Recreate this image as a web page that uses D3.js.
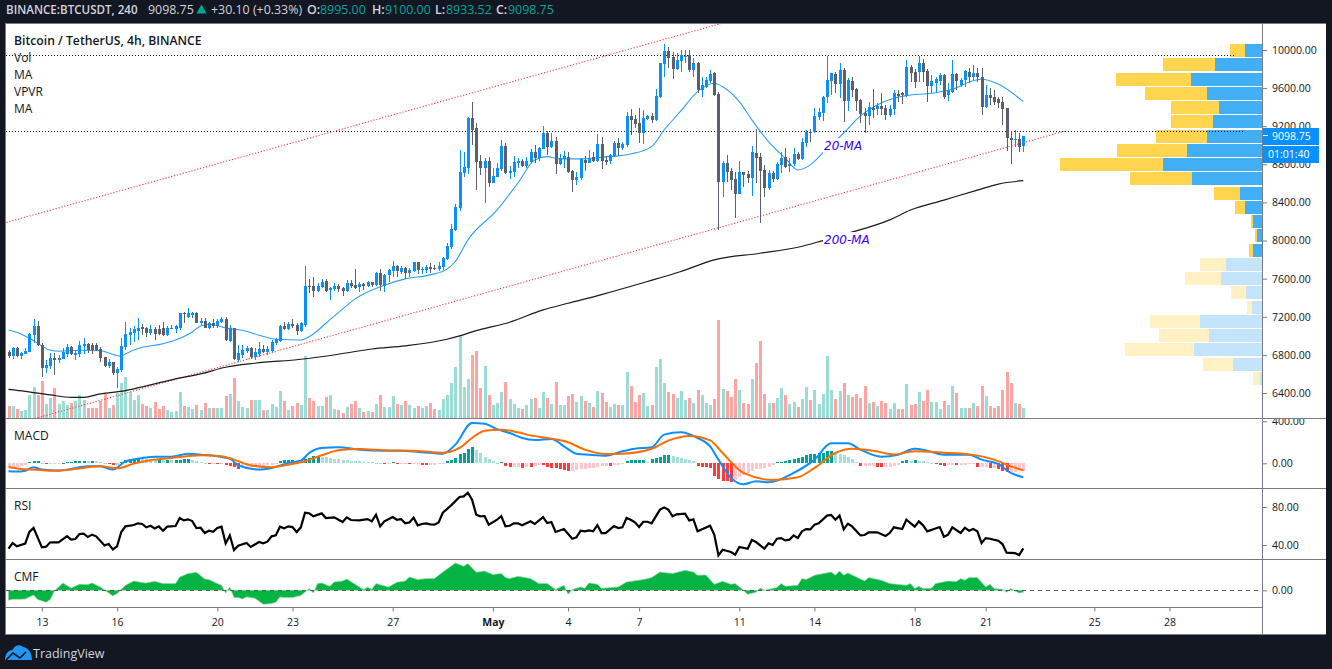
<!DOCTYPE html>
<html><head><meta charset="utf-8">
<script src="https://d3js.org/d3.v7.min.js"></script>
<style>html,body{margin:0;padding:0;background:#131722;overflow:hidden}
svg{display:block}
text{font-family:"Open Sans",sans-serif}
.ax text{font-size:10.5px;fill:#131722;font-family:"Open Sans",sans-serif}
.ax line{stroke:#787b86}
.ax path{display:none}
</style></head><body><div id="c"></div>
<script>
const opens=[6831,6789,6870,6789,6813,6835,7010,7104,6905,6667,
6684,6768,6747,6761,6813,6880,6800,6810,6894,6915,
6908,6905,6862,6778,6684,6726,6607,6642,6887,7010,
7034,7055,7090,7080,7027,7076,7069,7080,7010,7072,
7072,7086,7244,7195,7220,7237,7132,7160,7080,7139,
7104,7142,7181,6950,7080,6747,6800,6841,6876,6775,
6810,6866,6835,6845,6922,6946,7104,7069,7121,7114,
7048,7114,7524,7524,7472,7517,7580,7482,7489,7524,
7503,7472,7556,7534,7510,7545,7520,7562,7531,7664,
7524,7636,7678,7734,7671,7713,7661,7678,7776,7692,
7692,7723,7713,7699,7720,7811,7937,8110,8345,8708,
8761,9286,9181,8834,8761,8834,8607,8670,8747,8992,
8708,8719,8810,8838,8782,8824,8929,8866,8964,9128,
8982,9044,8803,8852,8880,8730,8635,8656,8845,8817,
8873,8838,9013,8845,8834,8887,9020,8967,8999,9307,
9279,9230,9128,9279,9304,9265,9503,9853,9990,9923,
9797,9888,9923,9944,9790,9867,9580,9615,9674,9755,
9538,8618,8817,8730,8645,8488,8719,8698,8656,8918,
8877,8740,8551,8712,8649,8793,8873,8782,8803,8908,
8855,9027,9143,9135,9297,9342,9503,9674,9748,9643,
9790,9465,9678,9587,9475,9335,9307,9388,9380,9415,
9388,9318,9377,9538,9545,9517,9825,9769,9765,9860,
9783,9625,9650,9678,9737,9527,9562,9748,9632,9685,
9772,9713,9762,9720,9405,9527,9503,9482,9458,9388,
9076,9055,9069,8995];
const closes=[6789,6873,6789,6820,6841,7020,7104,6905,6667,6691,
6768,6747,6768,6835,6880,6806,6820,6905,6915,6852,
6852,6852,6771,6684,6726,6607,6656,6894,7020,7041,
7072,7086,7076,7034,7072,7020,7020,7010,7083,7086,
7107,7244,7230,7244,7244,7139,7160,7086,7132,7104,
7156,7174,6957,7080,6757,6817,6852,6876,6782,6831,
6866,6831,6866,6940,6964,7104,7072,7121,7104,7048,
7132,7524,7510,7472,7524,7570,7475,7503,7524,7492,
7472,7556,7520,7506,7545,7520,7570,7531,7664,7531,
7640,7692,7734,7678,7716,7664,7692,7776,7692,7702,
7723,7699,7699,7734,7818,7944,8122,8355,8719,8771,
9289,9160,8827,8761,8834,8607,8677,8761,8992,8712,
8730,8824,8834,8782,8831,8929,8866,8975,9128,8982,
9041,8803,8866,8887,8722,8635,8666,8852,8817,8866,
8838,9013,8838,8824,8894,9027,8971,9013,9307,9265,
9227,9132,9282,9310,9265,9517,9863,9990,9920,9797,
9895,9947,9937,9790,9867,9580,9632,9685,9748,9527,
8618,8817,8723,8635,8488,8719,8687,8656,8929,8870,
8730,8551,8705,8649,8803,8870,8775,8803,8908,8855,
9037,9143,9125,9307,9353,9510,9685,9755,9643,9790,
9465,9685,9580,9465,9328,9307,9398,9370,9415,9377,
9318,9377,9552,9517,9527,9825,9755,9667,9860,9772,
9625,9678,9695,9737,9503,9580,9748,9678,9685,9776,
9720,9762,9713,9405,9527,9492,9458,9447,9380,9072,
9055,9062,8982,9098.75];
const highs=[6852,6887,6880,6831,6870,7027,7178,7156,6922,6747,
6817,6817,6800,6870,6915,6894,6852,6950,6975,6922,
6922,6922,6880,6782,6754,6730,6670,6975,7146,7080,
7104,7185,7125,7090,7114,7097,7114,7146,7104,7114,
7114,7244,7254,7290,7254,7247,7185,7185,7142,7174,
7174,7202,7195,7114,7086,6901,6905,6894,6887,6870,
6940,6905,6894,6957,6981,7114,7150,7150,7174,7132,
7150,7734,7594,7615,7559,7594,7594,7517,7552,7545,
7517,7587,7587,7702,7562,7552,7580,7570,7675,7699,
7650,7706,7786,7745,7734,7727,7710,7780,7780,7727,
7745,7762,7745,7780,7832,7972,8175,8383,8950,8929,
9293,9454,9230,8897,8862,8873,8758,8810,9055,9020,
8782,8887,8862,8852,8880,8957,9002,8985,9202,9153,
9132,9083,8908,8943,8932,8740,8722,8862,8887,8950,
8932,9118,9083,8891,8908,9041,9073,9037,9353,9377,
9318,9388,9370,9318,9342,9587,9867,10063,10028,9983,
9965,10000,10000,10000,9912,9877,9713,9720,9790,9773,
9562,8838,8898,8757,8722,8838,8722,8733,8992,9167,
8922,8793,8740,8730,8820,8932,8967,8862,8967,8932,
9073,9160,9167,9388,9388,9517,9937,9762,9772,9867,
9807,9703,9713,9605,9482,9388,9457,9587,9440,9545,
9422,9422,9580,9580,9562,9895,9842,9797,9940,9902,
9797,9737,9713,9755,9744,9650,9895,9762,9702,9790,
9807,9842,9807,9807,9632,9597,9580,9510,9503,9395,
9153,9160,9125,9100];
const lows=[6765,6754,6775,6761,6806,6827,6922,6894,6565,6614,
6649,6590,6719,6754,6782,6800,6747,6775,6810,6817,
6810,6845,6730,6670,6660,6590,6456,6625,6852,6905,
6940,6957,7010,6992,7010,6957,7010,6999,6999,7069,
7034,7062,7132,7185,7185,7132,7114,7080,7072,7080,
7080,7132,6946,6940,6747,6730,6765,6817,6754,6747,
6782,6817,6800,6835,6905,6940,7062,7062,7086,7010,
7038,7097,7454,7405,7465,7500,7465,7377,7475,7458,
7419,7465,7506,7496,7465,7482,7510,7510,7524,7475,
7465,7562,7622,7622,7650,7597,7622,7671,7650,7650,
7657,7657,7692,7685,7692,7797,7912,8103,8313,8670,
8698,9003,8530,8687,8390,8565,8600,8663,8733,8698,
8645,8670,8757,8768,8757,8810,8810,8838,8957,8897,
8967,8698,8793,8757,8705,8509,8582,8635,8730,8810,
8827,8827,8750,8793,8803,8880,8887,8950,8985,9107,
9178,9020,9013,9265,9230,9255,9492,9713,9807,9695,
9790,9773,9860,9773,9713,9545,9510,9597,9650,9517,
8110,8460,8618,8530,8240,8488,8565,8600,8467,8600,
8187,8453,8530,8617,8635,8705,8757,8723,8782,8845,
8845,8978,9037,9132,9265,9258,9440,9527,9545,9492,
9248,9363,9510,9363,9237,9132,9212,9282,9318,9318,
9265,9293,9318,9457,9433,9510,9667,9597,9667,9667,
9457,9545,9545,9632,9482,9468,9552,9580,9615,9615,
9650,9685,9667,9318,9388,9422,9422,9387,9212,8943,
8803,8985,8932,8933.52];
const volumes=[36,36,27,21,24,69,93,69,111,42,
60,90,42,51,39,45,51,69,54,30,
30,30,51,72,30,39,74,105,123,78,
54,69,42,36,30,48,27,36,24,18,
21,78,36,33,27,39,24,45,30,30,
30,30,66,72,120,51,33,30,54,54,
54,24,24,42,33,81,51,24,36,45,
39,186,60,51,36,36,63,69,27,24,
15,33,42,51,30,18,21,18,42,69,
33,33,66,42,39,51,39,30,36,30,
36,45,27,24,57,69,105,153,249,93,
117,189,201,90,156,69,39,45,78,108,
57,42,30,27,39,57,60,30,78,60,
42,108,39,39,66,72,48,66,51,45,
33,81,75,48,33,42,39,39,138,96,
48,69,75,36,39,153,177,105,78,72,
60,81,54,60,45,84,69,45,39,57,
294,87,81,63,117,84,45,42,117,165,
231,72,45,45,60,90,69,42,48,33,
57,93,54,84,42,72,186,84,57,81,
105,69,63,72,60,96,45,48,36,51,
45,27,45,27,27,102,39,42,78,51,
84,48,48,27,51,39,96,75,30,30,
30,45,36,96,66,36,30,36,84,138,
105,45,42,30];
const macdHist=[-32,-32,-32,-25,-13,10,19,19,3,-10,
-10,-6,-6,6,16,16,19,22,25,22,
22,19,16,6,-6,-13,-13,10,32,38,
44,48,44,41,38,35,35,32,32,29,
29,35,38,38,29,19,13,3,-6,-6,
-10,-10,-19,-25,-38,-51,-44,-41,-38,-35,
-32,-25,-19,-13,-6,25,29,32,32,29,
32,38,54,70,73,63,57,51,44,38,
32,29,25,22,19,16,13,10,6,3,
-6,-6,16,-6,-6,-6,-10,-10,-10,-13,
-16,-16,-13,-10,-3,19,32,48,89,101,
139,152,127,101,63,44,25,6,13,-25,
-38,-38,-38,-44,-32,-38,-25,-13,-19,-32,
-44,-48,-57,-63,-70,-70,-63,-57,-51,-48,
-41,-35,-29,-22,-29,-19,-13,-3,25,32,
32,32,32,13,38,51,63,82,82,70,
60,51,41,32,22,-25,-32,-38,-44,-120,
-152,-165,-171,-177,-158,-133,-108,-89,-70,-57,
-57,-44,-32,-19,10,16,19,32,41,48,
63,76,89,89,95,101,114,114,101,89,
76,63,44,13,-25,-25,-25,-25,-32,-38,
-38,-32,-25,-19,25,32,19,32,25,19,
10,3,-3,-13,-25,-19,-13,-19,-19,-16,
-10,-6,-38,-38,-38,-44,-44,-51,-76,-82,
-82,-82,-76,-70];
// sampled readings: [bar index, value]
const ma20=[[0,7062],[3,7020],[5,6975],[8,6894],[10,6848],[12,6838],[17,6848],[22,6845],[24,6820],[27,6786],[28,6810],[32,6880],[36,6908],[40,6957],[44,7041],[46,7104],[48,7121],[52,7083],[56,7058],[60,7006],[64,6964],[70,6957],[73,7020],[76,7132],[79,7244],[83,7388],[90,7532],[95,7598],[101,7640],[105,7700],[107,7780],[110,8007],[117,8322],[122,8605],[126,8846],[129,8881],[132,8857],[137,8857],[143,8878],[149,8909],[154,8986],[157,9161],[161,9360],[165,9563],[169,9651],[171,9615],[175,9458],[178,9266],[182,9038],[186,8864],[189,8741],[192,8794],[195,8920],[200,9129],[204,9308],[208,9423],[212,9493],[215,9521],[221,9546],[226,9588],[231,9678],[233,9693],[237,9643],[243,9458]];
const ma200=[[0,6439],[4,6418],[10,6380],[15,6355],[18,6355],[22,6390],[28,6425],[34,6485],[40,6548],[46,6600],[52,6670],[59,6712],[70,6754],[79,6807],[87,6862],[95,6894],[105,6964],[108,6999],[112,7055],[120,7143],[128,7272],[134,7342],[142,7433],[153,7570],[161,7675],[169,7797],[180,7867],[189,7930],[195,8000],[201,8075],[211,8217],[216,8320],[224,8425],[232,8530],[237,8593],[243,8628]];
const macdLine=[[0,-76],[2,-79],[4,-70],[6,-38],[8,-60],[12,-70],[15,-54],[19,-29],[22,-29],[25,-60],[28,19],[31,44],[35,63],[39,63],[43,92],[46,82],[50,67],[53,44],[55,-19],[60,-60],[63,-44],[67,3],[70,25],[72,98],[75,146],[79,152],[84,130],[90,120],[94,120],[99,105],[104,92],[107,178],[111,384],[114,377],[117,326],[120,288],[123,241],[126,222],[130,232],[133,162],[136,92],[139,82],[143,73],[147,114],[150,139],[154,152],[157,273],[161,295],[165,241],[168,162],[170,35],[173,-139],[176,-200],[179,-171],[182,-181],[188,-92],[193,35],[197,190],[201,190],[204,130],[209,63],[213,82],[217,139],[220,120],[224,82],[230,82],[233,35],[237,-6],[240,-92],[243,-133]];
const macdSignal=[[0,-35],[3,-54],[6,-60],[10,-70],[14,-63],[18,-44],[22,-29],[26,-48],[30,-3],[34,29],[39,51],[46,76],[51,67],[54,35],[58,-19],[63,-38],[67,-13],[71,19],[75,76],[79,124],[84,136],[90,124],[98,117],[104,101],[108,146],[111,241],[114,311],[118,320],[122,295],[125,266],[130,235],[134,200],[138,130],[143,89],[147,92],[154,139],[158,216],[163,260],[168,219],[171,98],[176,-92],[183,-158],[189,-133],[193,-44],[198,98],[202,139],[207,120],[212,85],[217,114],[224,101],[230,85],[236,35],[240,-29],[243,-66]];
const rsi=[[0,36.1],[1,42.1],[2,38.6],[4,41.4],[5,53.7],[6,57.9],[8,37.5],[9,38.2],[10,42.8],[12,42.8],[14,49.4],[15,45.6],[16,46.3],[17,51.5],[18,51.9],[19,48.4],[20,50.9],[21,49.1],[23,39.6],[24,41],[25,35.4],[26,38.6],[27,53.7],[28,59.6],[30,61],[31,62.8],[32,62.1],[33,58.6],[34,60.3],[35,57.5],[36,59.6],[37,55],[38,59.3],[40,60],[41,68.4],[42,65.9],[43,67],[44,65.2],[45,57.9],[46,58.2],[47,52.6],[48,55],[49,54],[50,57.9],[51,59.3],[52,41.7],[53,50.1],[54,34.7],[55,39.3],[57,42.1],[58,37.9],[60,43.1],[61,41.7],[62,43.5],[63,49.1],[64,50.1],[65,59.3],[66,57.5],[67,59.6],[68,58.9],[69,53.7],[70,58.6],[71,74],[72,73.3],[73,70.2],[75,73.3],[76,68.4],[78,69.1],[80,64.2],[81,69.1],[82,66.3],[84,65.9],[86,67.3],[87,64.9],[88,71.9],[89,59.6],[90,64.9],[92,69.4],[93,66.6],[94,67.3],[95,62.8],[96,63.8],[97,68.7],[98,60.7],[99,62.1],[100,62.8],[101,61.7],[102,61.4],[103,63.8],[104,74],[106,81.7],[108,90.5],[109,91.2],[110,95.1],[111,87.7],[112,71.9],[113,70.2],[114,70.5],[115,61.4],[117,66.6],[118,70.5],[119,59.6],[120,60.3],[121,62.8],[122,62.8],[123,60.7],[125,64.9],[126,62.1],[128,69.4],[129,63.1],[130,64.2],[131,53.7],[133,56.8],[135,46.6],[136,48],[137,55],[138,54.4],[139,55.4],[140,54.4],[141,61],[142,52.6],[143,52.6],[145,60],[146,57.9],[147,58.6],[148,68.4],[149,66.6],[150,63.8],[151,58.9],[152,64.5],[153,64.5],[154,62.8],[156,77.2],[157,79.6],[158,77.2],[159,70.2],[160,72.3],[162,73],[163,65.9],[164,67],[165,54.4],[168,60.3],[169,50.9],[170,29.1],[171,35],[173,32.6],[174,29.8],[175,37.9],[177,36.1],[178,45.2],[179,43.1],[181,36.1],[182,41.7],[183,40],[184,46.6],[185,47.3],[186,44.9],[187,45.6],[188,50.1],[189,47.3],[190,54.4],[191,56.8],[192,56.4],[193,61.4],[194,62.8],[196,70.9],[197,71.6],[198,66.6],[199,70.9],[200,56.4],[201,62.4],[202,59.6],[204,50.1],[205,50.5],[206,53.3],[208,53.3],[210,49.4],[211,52.6],[212,58.6],[214,56.8],[215,66.6],[217,59.3],[218,64.9],[219,60.7],[220,54.4],[223,58.9],[224,48.7],[225,50.9],[226,58.6],[228,52.6],[229,58.2],[230,55],[231,56.8],[232,54.4],[233,42.1],[234,47.3],[235,46.6],[237,44.5],[238,41],[239,31.9],[241,31.5],[242,29.4],[243,36.4]];
const cmf=[[0,-.10],[1,-.09],[3,-.09],[4,-.087],[6,-.047],[7,-.093],[9,-.12],[10,-.093],[11,-.007],[13,.073],[15,.023],[17,.06],[19,.057],[20,.073],[22,.033],[23,.003],[25,-.057],[26,-.033],[28,.05],[30,.093],[32,.077],[33,.073],[35,.09],[37,.067],[40,.067],[41,.133],[43,.167],[45,.18],[47,.113],[48,.107],[50,.067],[51,.05],[52,-.027],[53,.033],[54,-.073],[55,-.073],[56,-.087],[57,-.067],[59,-.08],[61,-.14],[63,-.133],[64,-.12],[65,-.067],[66,-.073],[68,-.073],[70,-.053],[72,.017],[73,-.027],[74,.067],[75,.073],[77,.04],[78,.083],[80,.093],[81,.113],[83,.06],[85,.007],[86,.03],[87,.01],[88,.067],[91,.033],[93,.08],[95,.093],[96,.133],[98,.107],[100,.117],[102,.117],[104,.183],[107,.273],[109,.24],[110,.267],[112,.18],[114,.193],[116,.157],[118,.167],[119,.127],[120,.117],[122,.14],[125,.117],[127,.067],[129,.067],[131,.007],[133,.05],[134,-.04],[135,.007],[137,.033],[138,.02],[139,.073],[141,.06],[142,.02],[146,.033],[148,.083],[152,.107],[154,.127],[156,.183],[159,.167],[162,.2],[164,.183],[165,.15],[167,.153],[169,.06],[171,.09],[173,.06],[174,.067],[176,0],[177,-.04],[179,-.02],[180,.023],[181,0],[184,.027],[185,.067],[186,.04],[189,.05],[190,.117],[191,.107],[193,.15],[197,.183],[198,.15],[199,.193],[200,.15],[201,.173],[203,.133],[205,.093],[206,.127],[209,.1],[211,.067],[215,.05],[216,.067],[217,.017],[218,.04],[219,.017],[221,.02],[222,.067],[225,.093],[227,.087],[228,.117],[229,.1],[230,.127],[232,.127],[234,.033],[235,.06],[236,.017],[238,.01],[239,-.02],[240,.017],[242,-.027],[243,-.02]];
const trendUpper=[[-0.5,8190],[172,10294]];
const trendLower=[[7,6140],[253,9150]];
const levelLines=[[9942,293.6],[9143,295.5]];
const vpBuy=[51,141,213,165,129,147,165,225,297,210,66,51,27,15,27,108,123,48,30,186,159,204,87,6];
const vpSell=[45,156,225,186,144,126,153,210,309,186,78,30,6,6,12,78,108,45,15,150,150,207,90,21];
const vpTopPrice=10063, vpRowPrice=149.6, vpVisibleRows=15;
const priceTicks=[10000,9600,9200,8800,8400,8000,7600,7200,6800,6400];
const timeTicks=[[8,"13"],[26,"16"],[50,"20"],[68,"23"],[92,"27"],[116,"May"],[134,"4"],[151,"7"],[175,"11"],[193,"14"],[217,"18"],[234,"21"],[260,"25"],[278,"28"]];
const legendLines=["Vol","MA","VPVR","MA"];
const maLabels=[["20-MA",8995,40],["200-MA",8010,48]];

const W=1332,H=669,L=6,R=1262,RE=1326,CT=24,MB=418,PM=488.5,PR=559.5,PC=607.5,BOT=634;
const BLUE="#0a8fff",GRAY="#5d606b",BG="#131722";
const svg=d3.select("#c").append("svg").attr("width",W).attr("height",H);
const defs=svg.append("defs");
function clip(id,x,y,w,h){defs.append("clipPath").attr("id",id).append("rect").attr("x",x).attr("y",y).attr("width",w).attr("height",h);}
clip("cMain",L,CT,R-L,MB-CT);clip("cMacd",L,MB+1,RE-L,PM-MB-1);clip("cRsi",L,PM+1,R-L,PR-PM-1);clip("cCmf",L,PR+1,R-L,PC-PR-1);

svg.append("rect").attr("x",L).attr("y",CT).attr("width",RE-L).attr("height",BOT-CT).attr("fill","#fff");

const x=d3.scaleLinear().domain([0,243]).range([8.5,1023.3]);
const bx=i=>Math.round(x(i));
const yP=d3.scaleLinear().domain([10000,6400]).range([50,393]);
const yV=d3.scaleLinear().domain([0,300]).range([MB,MB-100]);
const yM=d3.scaleLinear().domain([0,400]).range([463.3,421.3]);
const yR=d3.scaleLinear().domain([40,80]).range([545,507]);
const yC=d3.scaleLinear().domain([0,1]).range([590.3,490.3]);
const xVP=d3.scaleLinear().domain([0,606]).range([0,202]);
const bars=d3.range(opens.length);
const up=i=>closes[i]>=opens[i];

// main pane
const gm=svg.append("g").attr("clip-path","url(#cMain)");
gm.append("g").selectAll("rect").data(bars).join("rect")
 .attr("x",i=>bx(i)-1).attr("width",3).attr("y",i=>yV(volumes[i])).attr("height",i=>MB-yV(volumes[i]))
 .attr("fill",i=>up(i)?"#9bdcd4":"#ffa3a3").attr("shape-rendering","crispEdges");

// volume profile
const vp=gm.append("g").attr("shape-rendering","crispEdges");
vpBuy.forEach((b,k)=>{
  const top=yP(vpTopPrice-k*vpRowPrice),bot=yP(vpTopPrice-(k+1)*vpRowPrice)-1.2;
  const faded=k>=vpVisibleRows;
  vp.append("rect").attr("x",R-xVP(b)).attr("width",xVP(b)).attr("y",top).attr("height",bot-top).attr("fill",faded?"#c3e4fa":"#42aff5");
  vp.append("rect").attr("x",R-xVP(b)-xVP(vpSell[k])).attr("width",xVP(vpSell[k])).attr("y",top).attr("height",bot-top).attr("fill",faded?"#fff1c4":"#ffd54f");
});

const lineXY=d3.line().x(d=>x(d[0])).y(d=>yP(d[1]));
// level lines
levelLines.forEach(([p,end])=>{
  gm.append("path").attr("d",lineXY([[-0.5,p],[end,p]])).attr("stroke","#131722").attr("stroke-width",1).attr("stroke-dasharray","1 2").attr("fill","none").attr("shape-rendering","crispEdges");
});
// trend channel
[trendUpper,trendLower].forEach(t=>{
  gm.append("path").attr("d",lineXY(t)).attr("stroke","#ff3030").attr("stroke-opacity",.95).attr("stroke-width",1.1).attr("stroke-dasharray","1.2 1.8").attr("fill","none");
});
// moving averages
const smooth=d3.line().x(d=>x(d[0])).y(d=>yP(d[1])).curve(d3.curveMonotoneX);
gm.append("path").attr("d",smooth(ma200)).attr("fill","none").attr("stroke","#1a1a1a").attr("stroke-width",1.2);
gm.append("path").attr("d",smooth(ma20)).attr("fill","none").attr("stroke","#2aa0f5").attr("stroke-width",1.1);
// candles
const gc=gm.append("g").attr("shape-rendering","crispEdges");
gc.selectAll("line").data(bars).join("line")
 .attr("x1",i=>bx(i)+.5).attr("x2",i=>bx(i)+.5).attr("y1",i=>yP(highs[i])).attr("y2",i=>yP(lows[i]))
 .attr("stroke",i=>up(i)?BLUE:GRAY);
gc.selectAll("rect").data(bars).join("rect")
 .attr("x",i=>bx(i)-1).attr("width",3)
 .attr("y",i=>yP(Math.max(opens[i],closes[i])))
 .attr("height",i=>Math.max(1,Math.abs(yP(opens[i])-yP(closes[i]))))
 .attr("fill",i=>up(i)?BLUE:GRAY);
// MA labels with white backing
maLabels.forEach(([t,p,w])=>{
  gm.append("rect").attr("x",823).attr("y",yP(p)-7.5).attr("width",w).attr("height",15).attr("fill","#fff");
  gm.append("text").attr("x",824).attr("y",yP(p)+4.5).text(t).attr("fill","#3a00f5").style("font-family","DejaVu Sans").style("font-style","italic").style("font-size","12px");
});

// MACD
const gd=svg.append("g").attr("clip-path","url(#cMacd)");
gd.append("g").attr("shape-rendering","crispEdges").selectAll("rect").data(bars).join("rect")
 .attr("x",i=>bx(i)-1).attr("width",3)
 .attr("y",i=>Math.min(yM(macdHist[i]),yM(0))).attr("height",i=>Math.max(1,Math.abs(yM(macdHist[i])-yM(0))))
 .attr("fill",i=>{const v=macdHist[i],p=i?macdHist[i-1]:v;
   return v>=0?(v>=p?"#00a393":"#a5e0d9"):(v<p?"#ff3b3b":"#ffc6ce");});
const lm=d3.line().x(d=>x(d[0])).y(d=>yM(d[1])).curve(d3.curveMonotoneX);
gd.append("path").attr("d",lm(macdLine)).attr("fill","none").attr("stroke","#0a8fff").attr("stroke-width",2);
gd.append("path").attr("d",lm(macdSignal)).attr("fill","none").attr("stroke","#ff6d00").attr("stroke-width",2);

// RSI
const gr=svg.append("g").attr("clip-path","url(#cRsi)");
gr.append("path").attr("d",d3.line().x(d=>x(d[0])).y(d=>yR(d[1]))(rsi)).attr("fill","none").attr("stroke","#000").attr("stroke-width",2.2);

// CMF
const gf=svg.append("g").attr("clip-path","url(#cCmf)");
gf.append("path").attr("d",d3.area().x(d=>x(d[0])).y0(yC(0)).y1(d=>yC(d[1]))(cmf)).attr("fill","#06b443").attr("stroke","#8fdcaa").attr("stroke-width",.6);
gf.append("line").attr("x1",L).attr("x2",R).attr("y1",yC(0)).attr("y2",yC(0)).attr("stroke","#555").attr("stroke-dasharray","4 4").attr("shape-rendering","crispEdges");

// dividers & frame
const frame=svg.append("g").attr("stroke","#787b86").attr("shape-rendering","crispEdges");
[[L-1,RE,CT-1,CT-1],[L-1,RE,MB,MB],[L-1,RE,PM,PM],[L-1,RE,PR,PR],[L-1,R,PC,PC],[L-1,RE,BOT,BOT],[L-1,L-1,CT-1,BOT],[R,R,CT-1,BOT]].forEach(d=>{
  frame.append("line").attr("x1",d[0]).attr("x2",d[1]).attr("y1",d[2]).attr("y2",d[3]);
});

// axes
function rAxis(scale,ticks){
  const g=svg.append("g").attr("class","ax").attr("transform",`translate(${R},0)`);
  const inner=g.append("g");
  inner.call(d3.axisRight(scale).tickValues(ticks).tickSize(5).tickPadding(5).tickFormat(d3.format(".2f")));
  inner.selectAll("path.domain").remove();
  return g;
}
defs.append("clipPath").attr("id","cAxM").append("rect").attr("x",0).attr("y",MB+1).attr("width",70).attr("height",PM-MB-1);
rAxis(yP,priceTicks);
rAxis(yM,[400,0]).attr("clip-path","url(#cAxM)");
rAxis(yR,[80,40]);
rAxis(yC,[0]);
const xa=svg.append("g").attr("class","ax").attr("transform",`translate(0,${PC})`)
 .call(d3.axisBottom(x).tickValues(timeTicks.map(d=>d[0])).tickSize(4).tickPadding(7).tickFormat(d=>timeTicks.find(t=>t[0]===d)[1]));
xa.selectAll("path.domain").remove();
xa.selectAll("text").style("font-weight",d=>d===116?"700":"400");

// price tags
const lastPrice=closes[closes.length-1];
const tag=svg.append("g");
tag.append("rect").attr("x",R+1).attr("y",yP(lastPrice)-8).attr("width",56).attr("height",17).attr("fill","#0a8fff").attr("shape-rendering","crispEdges");
tag.append("rect").attr("x",R+1).attr("y",yP(lastPrice)+10).attr("width",56).attr("height",17).attr("fill","#0a8fff").attr("shape-rendering","crispEdges");
tag.append("line").attr("x1",R+1).attr("x2",R+6).attr("y1",yP(lastPrice)).attr("y2",yP(lastPrice)).attr("stroke","#fff").attr("shape-rendering","crispEdges");
tag.append("text").attr("x",1272).attr("y",yP(lastPrice)+4).text("9098.75").attr("fill","#fff").style("font-size","10.5px");
tag.append("text").attr("x",1268).attr("y",yP(lastPrice)+22).text("01:01:40").attr("fill","#fff").style("font-size","10.5px");

// legend
svg.append("text").attr("x",14).attr("y",44.5).text("Bitcoin / TetherUS, 4h, BINANCE").style("font-size","12.2px").style("font-weight","600").attr("fill","#131722");
legendLines.forEach((t,k)=>svg.append("text").attr("x",14).attr("y",61.5+17*k).text(t).style("font-size","12px").attr("fill","#131722"));
[["MACD",440],["RSI",510],["CMF",581]].forEach(([t,y])=>svg.append("text").attr("x",14).attr("y",y).text(t).style("font-size","12px").attr("fill","#131722"));

// header
const hd=svg.append("g");
const HT="#d1d4dc",HV="#00a69a";
[["BINANCE:BTCUSDT, 240",6,HT,600,11.6],["9098.75",148,HT,400,12.4],["+30.10 (+0.33%)",211,HT,400,12.4],["O:",307,HT,600,12.4],["8995.00",320,HV,400,12.4],["H:",372,HT,600,12.4],["9100.00",385,HV,400,12.4],["L:",435,HT,600,12.4],["8933.52",446,HV,400,12.4],["C:",496,HT,600,12.4],["9098.75",508,HV,400,12.4]]
.forEach(([t,px,c,w,fs])=>hd.append("text").attr("x",px).attr("y",14).text(t).attr("fill",c).style("font-weight",w).style("font-size",fs+"px"));
hd.append("path").attr("d",d3.symbol(d3.symbolTriangle,46)()).attr("transform","translate(201.5,10.5)").attr("fill",HV);

// footer logo
const logo=svg.append("g");
logo.append("path").attr("d","M5 660C5 653 9 650 12.5 650C14.5 645 20 644 23 647C27 647 32 652 32 660Z").attr("fill","#2196f3");
logo.append("path").attr("d","M6 660L13 653L20 658L26 652").attr("fill","none").attr("stroke",BG).attr("stroke-width",1.6);
svg.append("text").attr("x",33).attr("y",658).text("TradingView").attr("fill","#d1d4dc").style("font-size","12.5px");
</script></body></html>
